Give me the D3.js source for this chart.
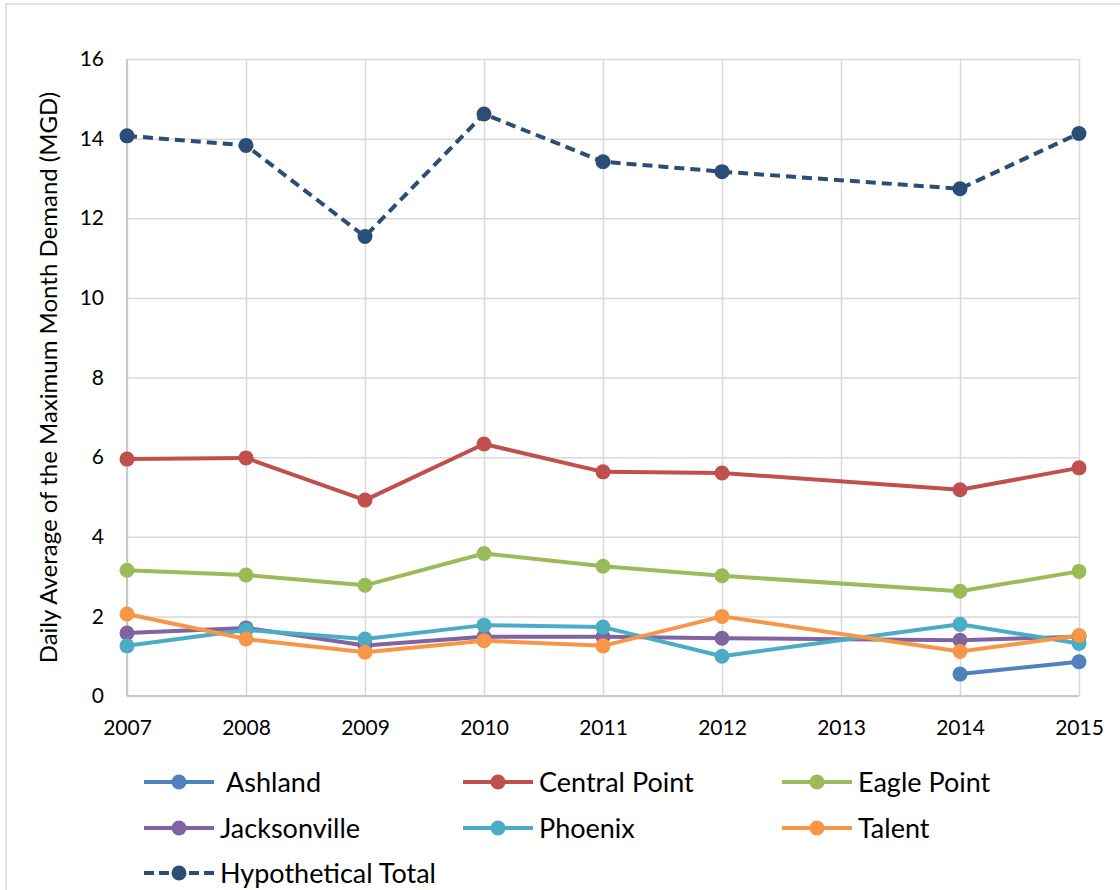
<!DOCTYPE html>
<html>
<head>
<meta charset="utf-8">
<script src="https://cdnjs.cloudflare.com/ajax/libs/d3/7.8.5/d3.min.js"></script>
<style>
  body { margin: 0; background: #fff; }
  svg { display: block; font-family: Lato, "Open Sans", sans-serif; }
  .grid line { stroke: #d9d9d9; stroke-width: 1.5; }
  .axis path { display: none; }
  .axis text { fill: #000; font-size: 21px; font-family: Lato, "Open Sans", sans-serif; }
  .legend text { font-size: 27px; fill: #000; white-space: pre; }
</style>
</head>
<body>
<script>
// years on the x axis; null = no value for that year
var years = [2007, 2008, 2009, 2010, 2011, 2012, 2013, 2014, 2015];
var yTicks = [0, 2, 4, 6, 8, 10, 12, 14, 16];

var ashland      = [null, null, null, null, null, null, null, 0.55, 0.86];
var centralPoint = [5.95, 5.98, 4.92, 6.33, 5.63, 5.60, null, 5.18, 5.73];
var eaglePoint   = [3.16, 3.04, 2.78, 3.58, 3.26, 3.02, null, 2.63, 3.13];
var jacksonville = [1.58, 1.71, 1.27, 1.49, 1.49, 1.45, null, 1.40, 1.49];
var phoenix      = [1.26, 1.66, 1.43, 1.78, 1.73, 1.00, null, 1.80, 1.32];
var talent       = [2.06, 1.43, 1.10, 1.39, 1.26, 2.00, null, 1.12, 1.52];
var total        = [14.07, 13.83, 11.54, 14.62, 13.42, 13.17, null, 12.74, 14.13];

var seriesNames = [" Ashland", "Central Point", "Eagle Point", "Jacksonville", "Phoenix", "Talent", "Hypothetical Total"];
var seriesData  = [ashland, centralPoint, eaglePoint, jacksonville, phoenix, talent, total];
var colors      = ["#4f81bd", "#c0504d", "#9bbb59", "#8064a2", "#4bacc6", "#f79646", "#2c4d75"];

var W = 1120, H = 890;
var plotL = 127, plotR = 1079, plotT = 59, plotB = 696;

var svg = d3.select("body").append("svg")
    .attr("width", W).attr("height", H);

// chart frame (only top/left edges fall inside the picture)
svg.append("rect")
    .attr("x", 6).attr("y", 4)
    .attr("width", W + 20).attr("height", H + 20)
    .attr("fill", "none").attr("stroke", "#d9d9d9").attr("stroke-width", 1.5);

var x = d3.scaleLinear().domain([2007, 2015]).range([plotL, plotR]);
var y = d3.scaleLinear().domain([0, 16]).range([plotB, plotT]);

// grid lines
svg.append("g").attr("class", "grid")
    .attr("transform", "translate(0," + plotT + ")")
    .call(d3.axisBottom(x).tickValues(years).tickFormat("").tickSize(plotB - plotT))
    .call(g => g.select(".domain").remove());

svg.append("g").attr("class", "grid")
    .attr("transform", "translate(" + plotL + ",0)")
    .call(d3.axisLeft(y).tickValues(yTicks).tickFormat("").tickSize(-(plotR - plotL)))
    .call(g => g.select(".domain").remove());

// axis lines
svg.append("line").attr("x1", plotL).attr("x2", plotL).attr("y1", plotT).attr("y2", plotB)
    .attr("stroke", "#c8c8c8").attr("stroke-width", 2);
svg.append("line").attr("x1", plotL).attr("x2", plotR).attr("y1", plotB).attr("y2", plotB)
    .attr("stroke", "#c8c8c8").attr("stroke-width", 2);

// tick labels
svg.append("g").attr("class", "axis")
    .attr("transform", "translate(" + plotL + ",0)")
    .call(d3.axisLeft(y).tickValues(yTicks).tickSize(0).tickPadding(23));

svg.append("g").attr("class", "axis")
    .attr("transform", "translate(0," + plotB + ")")
    .call(d3.axisBottom(x).tickValues(years).tickFormat(d3.format("d")).tickSize(0))
    .selectAll("text").attr("y", 39).attr("dy", 0);

// y axis title
svg.append("text")
    .attr("transform", "translate(57," + ((plotT + plotB) / 2) + ") rotate(-90)")
    .attr("text-anchor", "middle")
    .style("font-size", "24px")
    .attr("fill", "#000")
    .text("Daily Average of the Maximum Month Demand (MGD)");

// lines and markers
var line = d3.line()
    .x(d => x(d.year))
    .y(d => y(d.v));

seriesData.forEach(function(vals, i) {
    var pts = years.map((yr, j) => ({ year: yr, v: vals[j] })).filter(d => d.v !== null);
    var isTotal = i === seriesData.length - 1;
    svg.append("path")
        .datum(pts)
        .attr("fill", "none")
        .attr("stroke", colors[i])
        .attr("stroke-width", 4)
        .attr("stroke-linejoin", "round")
        .attr("stroke-dasharray", isTotal ? "10,6" : null)
        .attr("d", line);
    svg.append("g").selectAll("circle")
        .data(pts).join("circle")
        .attr("cx", d => x(d.year))
        .attr("cy", d => y(d.v))
        .attr("r", 7.5)
        .attr("fill", colors[i]);
});

// legend
var colX = [144, 463, 782];
var rowY = [782, 828, 873];
var legend = svg.append("g").attr("class", "legend");
seriesNames.forEach(function(name, i) {
    var lx = colX[i % 3], ly = rowY[Math.floor(i / 3)];
    var isTotal = i === seriesNames.length - 1;
    var g = legend.append("g").attr("transform", "translate(" + lx + "," + ly + ")");
    g.append("line")
        .attr("x1", 0).attr("x2", 70).attr("y1", 0).attr("y2", 0)
        .attr("stroke", colors[i]).attr("stroke-width", 4)
        .attr("stroke-dasharray", isTotal ? "10,5" : null);
    g.append("circle").attr("cx", 35).attr("cy", 0).attr("r", 7.5).attr("fill", colors[i]);
    g.append("text").attr("x", 76).attr("y", 0).attr("dy", "0.36em").text(name);
});
</script>
</body>
</html>
